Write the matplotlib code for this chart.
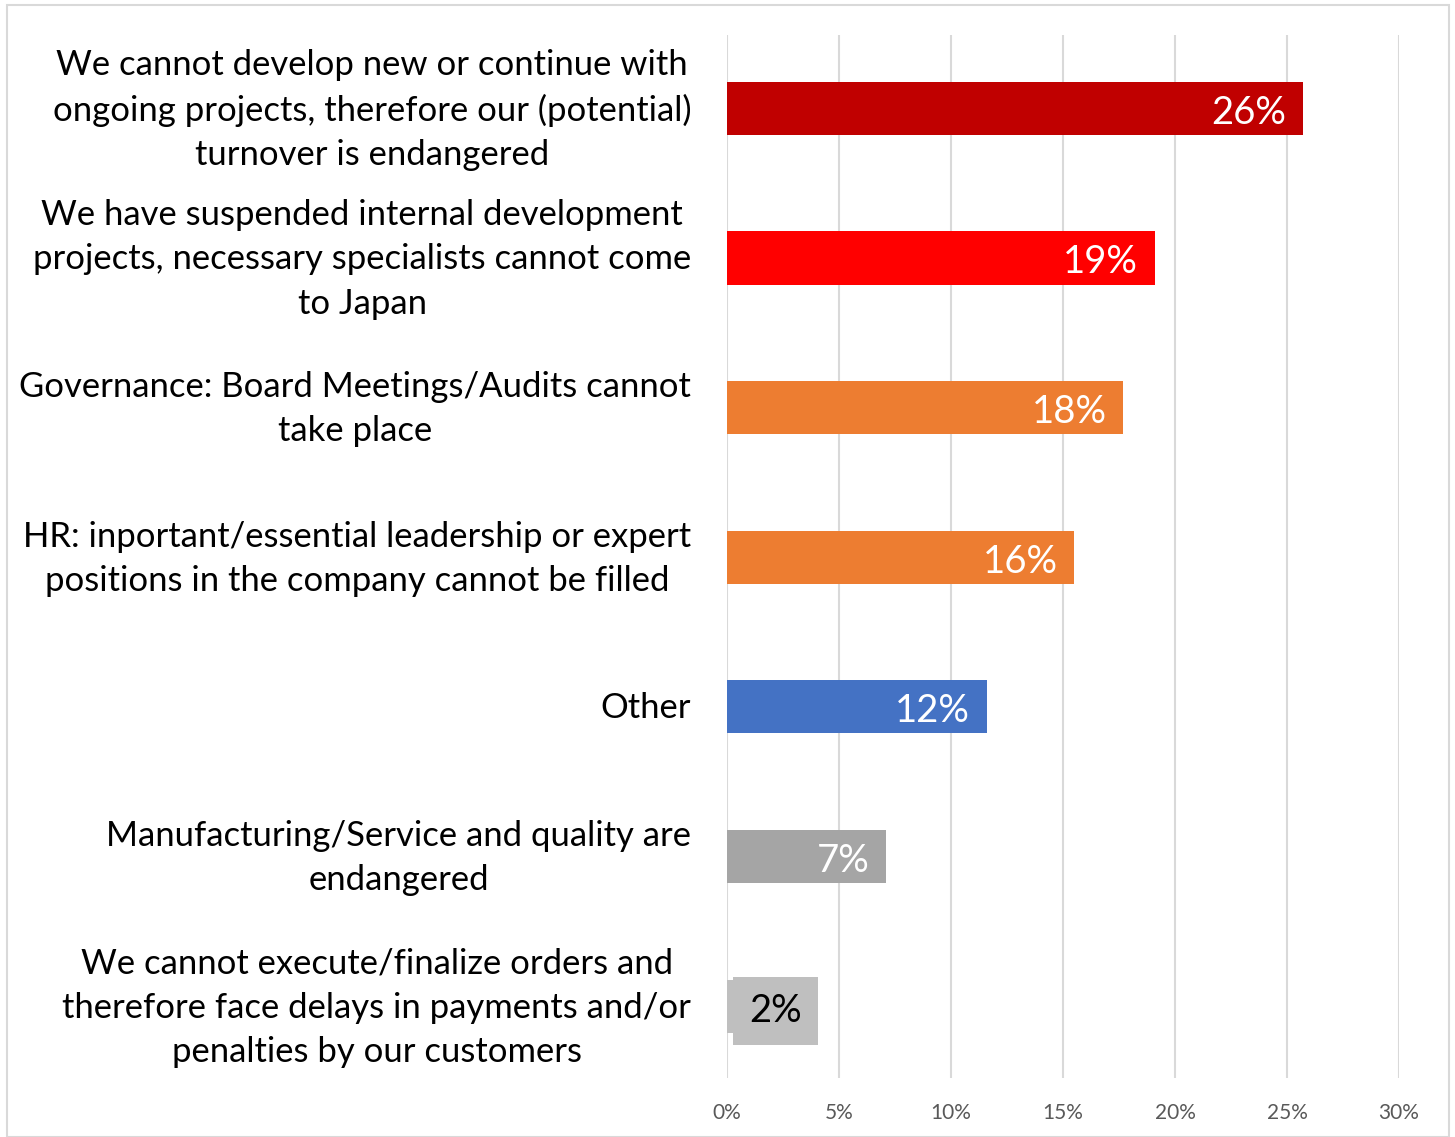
import matplotlib.pyplot as plt
from matplotlib.patches import Rectangle

# data
categories = [
    "We cannot develop new or continue with\nongoing projects, therefore our (potential)\nturnover is endangered",
    "We have suspended internal development\nprojects, necessary specialists cannot come\nto Japan",
    "Governance: Board Meetings/Audits cannot\ntake place",
    "HR: inportant/essential leadership or expert\npositions in the company cannot be filled",
    "Other",
    "Manufacturing/Service and quality are\nendangered",
    "We cannot execute/finalize orders and\ntherefore face delays in payments and/or\npenalties by our customers",
]
values = [25.7, 19.1, 17.7, 15.5, 11.6, 7.1, 2.0]
value_labels = ["26%", "19%", "18%", "16%", "12%", "7%", "2%"]
colors = ["#C00000", "#FF0000", "#ED7D31", "#ED7D31", "#4472C4", "#A5A5A5", "#BFBFBF"]
xticks = [0, 5, 10, 15, 20, 25, 30]
xtick_labels = ["0%", "5%", "10%", "15%", "20%", "25%", "30%"]

plt.rcParams['font.family'] = ['Lato', 'DejaVu Sans']

fig = plt.figure(figsize=(14.55, 11.37), dpi=100)
ax = fig.add_axes([727 / 1455, 1 - 1078 / 1137, (1399 - 727) / 1455, (1078 - 35) / 1137])

# outer frame
fig.patches.append(Rectangle((7 / 1455, 0), 1442 / 1455, 1 - 5 / 1137, transform=fig.transFigure,
                             fill=False, edgecolor="#D9D9D9", linewidth=1.5))

ypos = list(range(len(categories)))
ax.barh(ypos, values, height=0.355, color=colors, zorder=2)

for i, (v, lab) in enumerate(zip(values, value_labels)):
    if v < 4:
        # small bar: label sits in a box of the bar colour
        ax.text(v + 0.16, i + 0.03, lab, ha='center', va='center', fontsize=27.5, color='black', zorder=3,
                bbox=dict(boxstyle='square,pad=0.42', facecolor=colors[i], edgecolor='none'))
    else:
        ax.text(v - 0.75, i + 0.03, lab, ha='right', va='center', fontsize=27.5, color='white', zorder=3)

for i, cat in enumerate(categories):
    ax.text(-1.6, i + 0.01, cat, ha='right', va='center', multialignment='center', fontsize=24.9,
            linespacing=1.47, color='black')

ax.set_xlim(0, 30)
ax.set_ylim(6.48, -0.49)
ax.set_xticks(xticks)
ax.set_xticklabels(xtick_labels, fontsize=15, color='#595959')
ax.tick_params(axis='x', length=0, pad=18)
ax.set_yticks([])
ax.grid(axis='x', color='#D9D9D9', linewidth=1.5, zorder=0)
for s in ax.spines.values():
    s.set_visible(False)

fig.savefig('out.png', dpi=100)
